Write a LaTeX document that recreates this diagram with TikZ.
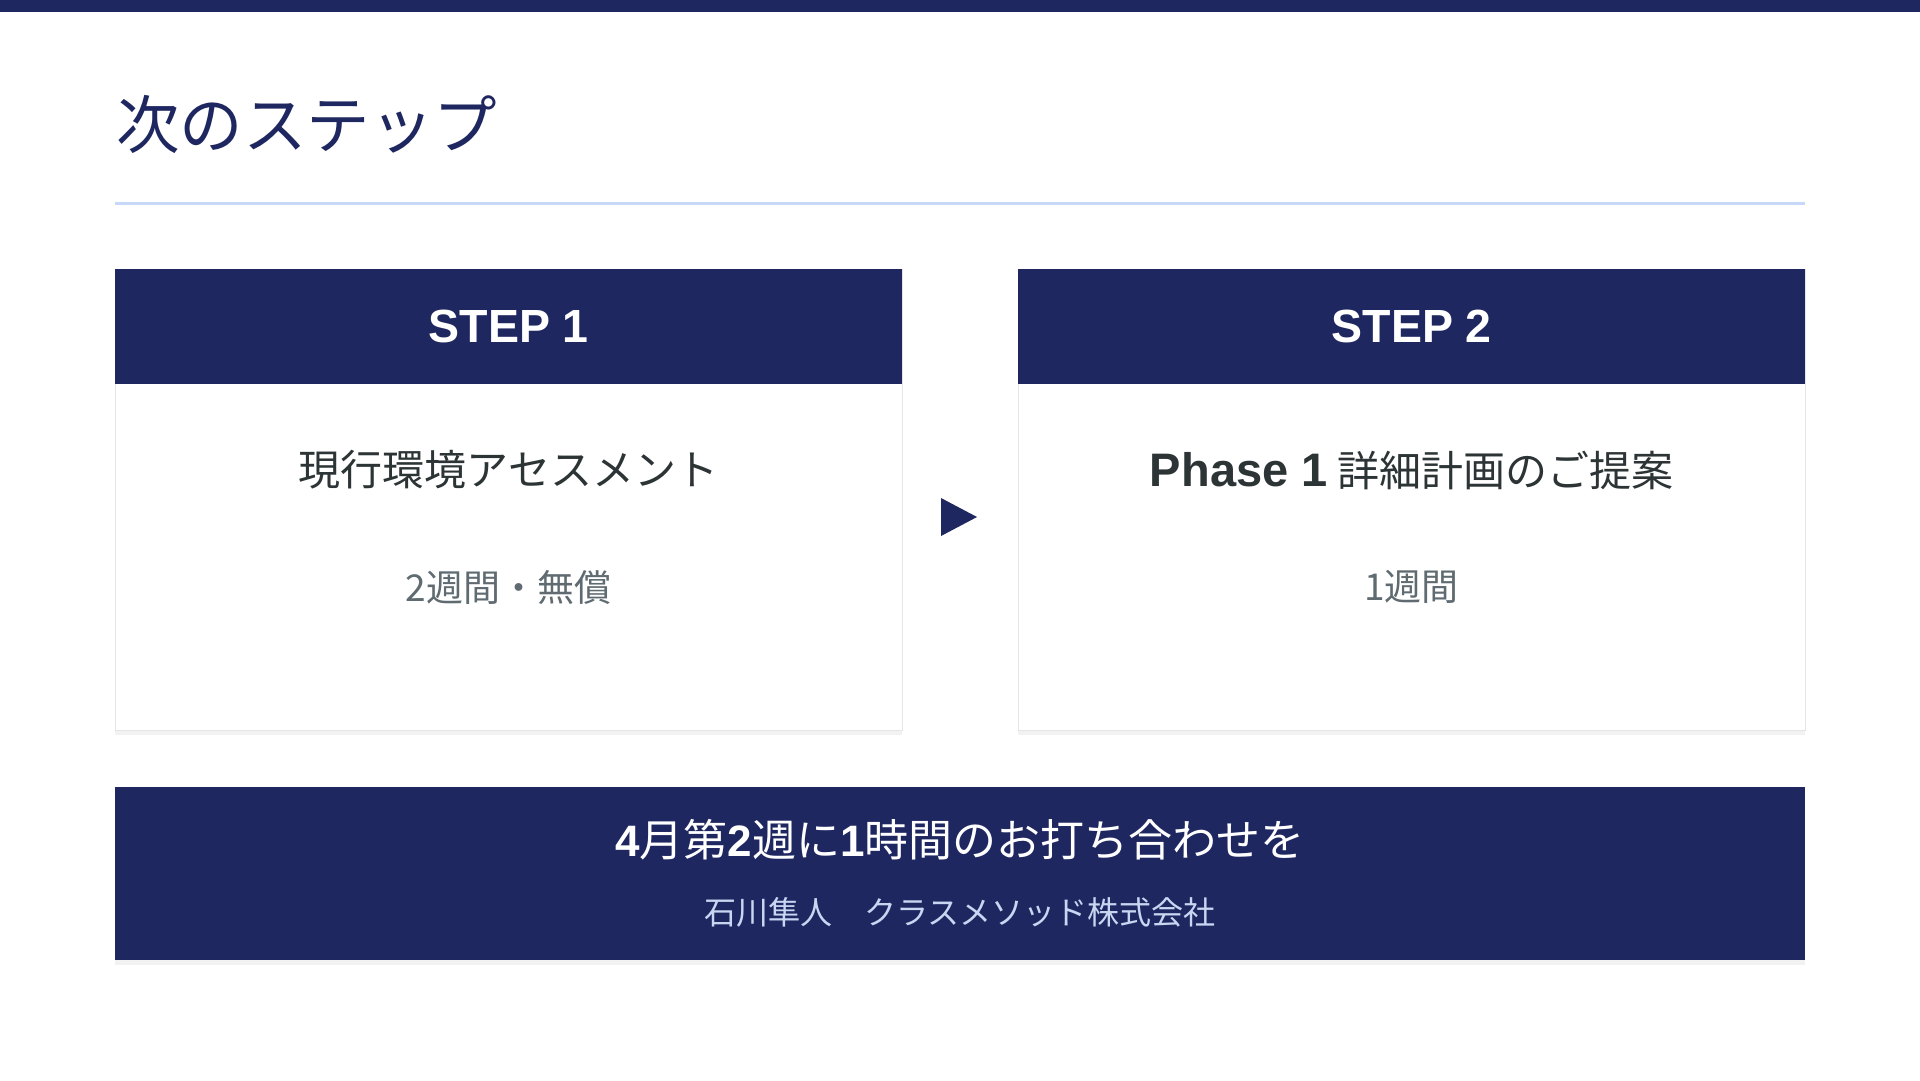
\documentclass[tikz,border=0pt]{standalone}
\usepackage{fontspec}
\setmainfont{Noto Sans CJK JP}
\newfontfamily\latin{Liberation Sans}
\usetikzlibrary{positioning,shadows}
\definecolor{navy}{HTML}{1F2761}
\definecolor{rulecol}{HTML}{C6DAF8}
\definecolor{ink}{HTML}{2D3436}
\definecolor{mute}{HTML}{5F6B70}
\definecolor{pale}{HTML}{C8D6F2}

\begin{document}
\begin{tikzpicture}
[x=1pt,y=-1pt,
every node/.style={inner sep=0pt},
card/.style={draw=black!10,fill=white,anchor=north west,minimum width=787pt,minimum height=461pt,
  drop shadow={opacity=0.10,shadow xshift=0pt,shadow yshift=-5pt}},
cardhead/.style={fill=navy,anchor=north west,minimum width=787pt,minimum height=115pt},
steplabel/.style={text=white,font=\latin\bfseries\fontsize{46.5}{54}\selectfont},
maintext/.style={text=ink,font=\fontsize{42}{50}\selectfont},
subtext/.style={text=mute,font=\fontsize{37}{44}\selectfont},
banner/.style={fill=navy,anchor=north west,minimum width=1690pt,minimum height=173pt,
  drop shadow={opacity=0.10,shadow xshift=0pt,shadow yshift=-5pt}}]
\useasboundingbox[fill=white] (0,0) rectangle (1920,1080);
\fill[navy] (0,0) rectangle (1920,12);
\node[anchor=west,text=navy,font=\fontsize{63.5}{72}\selectfont] (title) at (116,124) {次のステップ};
\draw[rulecol,line width=3pt] (115,203) -- (1805,203);
% step 1
\node[card] (card1) at (115,269) {};
\node[cardhead] (head1) at (card1.north west) {};
\node[steplabel] (step1) at (head1) {STEP 1};
\node[maintext] (task1) at (508.5,470) {現行環境アセスメント};
\node[subtext] (time1) at (508.5,587) {2週間・無償};
% step 2
\node[card] (card2) at (1018,269) {};
\node[cardhead] (head2) at (card2.north west) {};
\node[steplabel] (step2) at (head2) {STEP 2};
\node[maintext] (task2) at (1411.5,470) {{\latin\bfseries\fontsize{47}{50}\selectfont Phase 1} 詳細計画のご提案};
\node[subtext] (time2) at (1411.5,587) {1週間};
\fill[navy] (941,498) -- (977,517) -- (941,536) -- cycle;
% call to action
\node[banner] (cta) at (115,787) {};
\node[text=white,font=\fontsize{44}{50}\selectfont] (ask) at (960,840)
  {{\latin\bfseries 4}月第{\latin\bfseries 2}週に{\latin\bfseries 1}時間のお打ち合わせを};
\node[text=pale,font=\fontsize{32}{38}\selectfont] (who) at (960,912) {石川隼人　クラスメソッド株式会社};
\end{tikzpicture}
\end{document}
